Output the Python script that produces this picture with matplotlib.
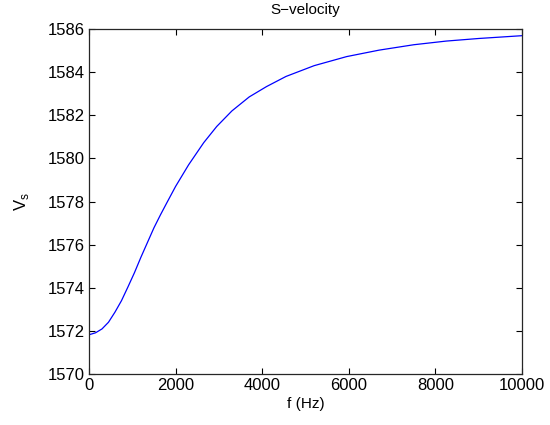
import matplotlib
matplotlib.use("Agg")
import matplotlib.pyplot as plt

# ---- data ----
freq_hz = [0, 150, 300, 450, 600, 750, 900, 1050, 1200, 1350, 1500, 1650,
           1800, 2000, 2300, 2650, 2950, 3300, 3700, 4100, 4550, 5200,
           5950, 6700, 7500, 8250, 9000, 10000]
vs = [1571.82, 1571.91, 1572.09, 1572.40, 1572.87, 1573.40, 1574.04,
      1574.70, 1575.42, 1576.10, 1576.78, 1577.38, 1577.95, 1578.70,
      1579.70, 1580.73, 1581.48, 1582.20, 1582.85, 1583.33, 1583.80,
      1584.30, 1584.72, 1585.02, 1585.27, 1585.44, 1585.56, 1585.69]
xticks = [0, 2000, 4000, 6000, 8000, 10000]
yticks = [1570, 1572, 1574, 1576, 1578, 1580, 1582, 1584, 1586]

plt.rcParams["font.family"] = ["Liberation Sans", "DejaVu Sans"]

fig = plt.figure(figsize=(5.5, 4.25), dpi=100)
ax = fig.add_axes([89/550, 51/425, 433/550, 345/425])

ax.plot(freq_hz, vs, color="#0000ff", lw=0.9)

ax.set_xlim(0, 10000)
ax.set_ylim(1570, 1586)
ax.set_xticks(xticks)
ax.set_yticks(yticks)
ax.tick_params(direction="in", length=4, width=0.8, top=True, right=True,
               labelsize=12, pad=3, colors="black")
for s in ax.spines.values():
    s.set_linewidth(0.9)
    s.set_color("#262626")

ax.set_title("S\u2212velocity", fontsize=11, pad=11)
ax.set_xlabel("f (Hz)", fontsize=11, labelpad=3)
ax.set_ylabel(r"V$_\mathregular{s}$", fontsize=12, labelpad=12)

fig.savefig("out.png", dpi=100)
